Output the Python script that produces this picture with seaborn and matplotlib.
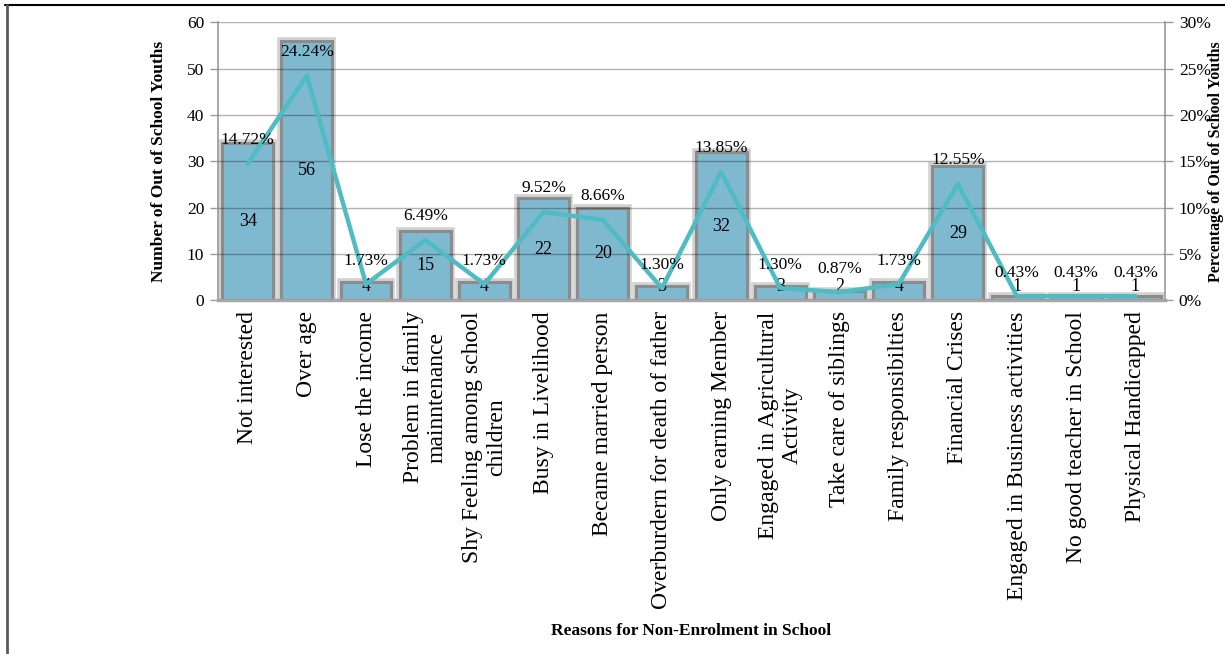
import numpy as np
import pandas as pd
import matplotlib
matplotlib.use("Agg")
import matplotlib.pyplot as plt
import matplotlib.patheffects as pe
from matplotlib.lines import Line2D
from matplotlib.ticker import FuncFormatter, FixedLocator
import seaborn as sns

categories = [
    "Not interested", "Over age", "Lose the income",
    "Problem in family\nmainntenance", "Shy Feeling among school\nchildren",
    "Busy in Livelihood", "Became married person", "Overburdern for death of father",
    "Only earning Member", "Engaged in Agricultural\nActivity", "Take care of siblings",
    "Family responsibilties", "Financial Crises", "Engaged in Business activities",
    "No good teacher in School", "Physical Handicapped",
]
counts = [34, 56, 4, 15, 4, 22, 20, 3, 32, 3, 2, 4, 29, 1, 1, 1]
percents = [14.72, 24.24, 1.73, 6.49, 1.73, 9.52, 8.66, 1.30, 13.85, 1.30, 0.87,
            1.73, 12.55, 0.43, 0.43, 0.43]
left_ticks = [0, 10, 20, 30, 40, 50, 60]
right_ticks = [0, 5, 10, 15, 20, 25, 30]

sns.set_theme(style="white")
plt.rcParams["font.family"] = ["Liberation Serif", "DejaVu Serif"]
for key in ["text.color", "axes.labelcolor", "xtick.color", "ytick.color"]:
    plt.rcParams[key] = "black"

df = pd.DataFrame({"reason": categories, "count": counts, "pct": percents})

fig = plt.figure(figsize=(12.25, 6.54), dpi=100)
ax = fig.add_axes([0.178, 0.541, 0.773, 0.425])

bar_color = "#7fb9d0"
sns.barplot(data=df, x="reason", y="count", color=bar_color, saturation=1,
            width=0.86, edgecolor="#8c8c8c", linewidth=2.2, ax=ax, zorder=2)
for p in ax.patches:
    p.set_path_effects([pe.Stroke(linewidth=5.5, foreground="#d2d2d2"), pe.Normal()])

ax.set_xlim(-0.5, len(categories) - 0.5)
ax.set_ylim(0, 60)
ax.set_yticks(left_ticks)
ax.yaxis.grid(True, color="black", alpha=0.3, linewidth=1.0, zorder=3)
ax.set_axisbelow(False)
ax.xaxis.grid(False)

# boundary ticks on x axis
ax.xaxis.set_minor_locator(FixedLocator(np.arange(-0.5, len(categories), 1.0)))
ax.tick_params(axis="x", which="major", length=0, pad=8, labelsize=17, rotation=90)
ax.tick_params(axis="x", which="minor", length=6, width=1, color="#9a9a9a", direction="out")
ax.tick_params(axis="y", which="major", length=6, width=1, color="#9a9a9a",
               direction="out", labelsize=12.5, pad=4)
for lbl in ax.get_xticklabels():
    lbl.set_multialignment("center")
    lbl.set_va("top")
    lbl.set_ha("center")

for s in ["left", "right", "bottom"]:
    ax.spines[s].set_color("#9a9a9a")
    ax.spines[s].set_linewidth(1.2)
ax.spines["top"].set_visible(False)
ax.spines["bottom"].set_linewidth(2.5)
ax.spines["bottom"].set_color("#a8a8a8")

ax.set_xlabel("Reasons for Non-Enrolment in School", fontsize=12.5, fontweight="bold",
              labelpad=10)
ax.set_ylabel("Number of Out of School Youths", fontsize=12.5, fontweight="bold",
              labelpad=14)

# count labels
for i, v in enumerate(counts):
    ax.text(i, max(v / 2, 3.0), str(v), ha="center", va="center", fontsize=13,
            color="black", zorder=6)

# secondary axis with percentage line
ax2 = ax.twinx()
sns.lineplot(x=np.arange(len(percents)), y=percents, ax=ax2, color="#4fbcc3",
             linewidth=3.2, zorder=5)
ax2.set_ylim(0, 30)
ax2.set_yticks(right_ticks)
ax2.yaxis.set_major_formatter(FuncFormatter(lambda v, _: f"{int(v)}%"))
ax2.tick_params(axis="y", length=6, width=1, color="#9a9a9a", direction="out",
                labelsize=12.5, pad=4)
ax2.grid(False)
for s in ax2.spines.values():
    s.set_visible(False)
ax2.set_ylabel("Percentage of Out of School Youths", fontsize=11.5, fontweight="bold",
               labelpad=-2)

for i, v in enumerate(percents):
    ax2.annotate(f"{v:.2f}%", (i, v), xytext=(0, 17), textcoords="offset points",
                 ha="center", va="center", fontsize=12.5, color="black", zorder=7)

# page frame lines
fig.add_artist(Line2D([0.004, 1.0], [0.993, 0.993], transform=fig.transFigure,
                      color="black", linewidth=1.5))
fig.add_artist(Line2D([0.0058, 0.0058], [0.0, 0.993], transform=fig.transFigure,
                      color="#5a5a5a", linewidth=2.0))

fig.savefig("out.png", dpi=100)
